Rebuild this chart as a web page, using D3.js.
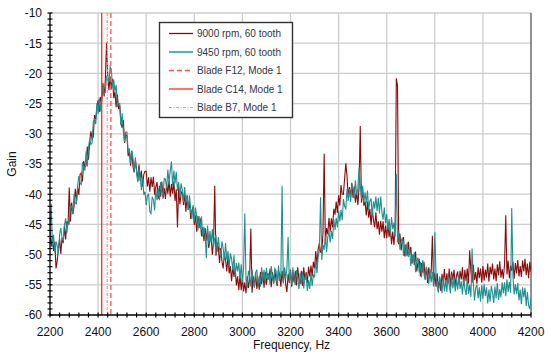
<!DOCTYPE html>
<html><head><meta charset="utf-8">
<script src="https://cdn.jsdelivr.net/npm/d3@7"></script>
<style>body{margin:0;background:#fff}svg{display:block;font-family:"Liberation Sans",Arial,sans-serif}</style>
</head><body><svg id="c" width="550" height="357"></svg>
<script>
// Frequency grid (Hz) of the sampled spectra
const freqs = d3.range(2200, 4201, 5);
// 9000 rpm, 60 tooth (dark red)
const gain9000 = [
-46.0,-48.7,-47.0,-49.4,-47.9,-52.3,-51.0,-49.1,-47.4,-49.9,-47.2,-48.1,-45.3,-47.5,-44.5,-45.1,-38.9,-44.5,-41.4,-43.3,
-42.0,-39.1,-41.2,-38.9,-40.1,-36.7,-36.5,-37.9,-34.5,-35.5,-35.3,-32.1,-34.3,-31.2,-29.6,-30.9,-30.5,-26.9,-27.6,-25.8,
-24.4,-26.4,-23.9,-24.7,-21.6,-23.8,-21.2,-14.9,-20.4,-22.8,-20.5,-22.6,-20.9,-24.1,-23.0,-25.6,-23.5,-25.9,-25.3,-28.3,
-29.0,-27.7,-31.5,-30.1,-30.4,-33.7,-32.7,-35.3,-32.8,-35.4,-36.4,-34.4,-35.9,-37.8,-35.1,-37.8,-36.1,-38.7,-36.7,-36.2,
-36.2,-38.7,-37.2,-39.6,-37.2,-38.8,-37.1,-40.1,-38.8,-38.0,-40.8,-38.6,-40.4,-37.9,-40.7,-39.0,-40.8,-38.3,-39.9,-37.8,
-40.4,-38.3,-39.9,-37.9,-41.1,-39.2,-45.5,-38.8,-41.7,-40.0,-39.4,-41.8,-40.1,-42.9,-40.2,-42.6,-41.3,-44.1,-42.7,-42.1,
-45.1,-43.5,-46.2,-43.6,-45.6,-44.0,-47.0,-45.5,-47.8,-45.6,-47.7,-45.7,-48.9,-47.6,-47.0,-50.0,-47.9,-38.6,-50.2,-48.0,
-48.8,-51.4,-48.9,-51.1,-52.3,-49.9,-50.9,-52.8,-50.3,-53.1,-51.9,-54.4,-51.9,-53.7,-52.3,-55.1,-53.6,-55.9,-53.4,-55.9,
-53.8,-56.1,-54.6,-56.4,-53.6,-55.5,-54.0,-45.7,-56.3,-53.6,-55.4,-53.0,-55.7,-54.0,-55.8,-52.9,-54.9,-52.9,-55.5,-52.9,
-55.0,-53.1,-54.1,-52.3,-55.4,-52.9,-54.8,-52.5,-54.3,-55.2,-52.6,-53.4,-55.3,-52.7,-54.6,-52.2,-54.9,-56.2,-53.2,-54.7,
-52.5,-55.3,-53.2,-54.6,-52.7,-55.1,-52.1,-54.1,-54.9,-52.7,-55.2,-52.1,-54.2,-52.9,-54.7,-52.0,-53.6,-51.8,-53.6,-51.2,
-52.3,-49.4,-51.8,-49.1,-48.1,-49.6,-49.7,-46.4,-33.3,-48.3,-45.6,-46.6,-43.9,-46.2,-44.0,-45.5,-42.4,-43.4,-41.2,-43.1,
-40.2,-41.9,-38.5,-40.0,-40.0,-37.4,-34.9,-37.0,-40.5,-38.8,-40.5,-38.1,-40.6,-38.7,-41.4,-39.5,-41.8,-39.0,-28.7,-41.4,
-39.3,-41.9,-41.2,-43.5,-41.2,-43.9,-42.4,-45.1,-42.5,-44.3,-45.5,-43.0,-45.8,-44.5,-46.7,-44.4,-46.2,-44.5,-47.3,-45.2,
-47.3,-44.9,-47.1,-45.5,-48.3,-46.2,-48.4,-45.5,-20.8,-22.1,-48.3,-46.5,-49.3,-47.7,-47.1,-50.3,-48.3,-50.2,-47.9,-50.0,
-48.7,-51.5,-50.0,-51.7,-49.5,-52.8,-51.3,-50.7,-53.6,-51.4,-53.0,-51.2,-54.0,-52.1,-54.7,-52.1,-54.0,-52.8,-46.9,-55.2,
-53.0,-55.3,-53.1,-55.9,-54.0,-56.0,-53.2,-54.5,-52.4,-55.2,-53.1,-54.8,-52.3,-55.3,-52.8,-54.2,-52.5,-55.2,-53.5,-52.8,
-54.9,-52.7,-54.1,-52.1,-55.2,-52.5,-54.4,-52.3,-54.8,-49.3,-52.7,-54.7,-51.7,-54.2,-52.9,-54.8,-52.1,-53.9,-52.3,-54.6,
-51.9,-54.3,-52.5,-53.8,-51.5,-54.5,-52.0,-53.3,-51.5,-54.1,-52.3,-54.4,-51.6,-53.4,-51.1,-53.8,-52.4,-54.0,-51.6,-43.5,
-53.3,-51.0,-53.9,-51.8,-52.7,-51.2,-54.0,-51.4,-53.1,-50.9,-53.6,-51.9,-53.7,-51.0,-52.8,-50.7,-53.4,-51.5,-53.9,-51.2,-52.9
];
// 9450 rpm, 60 tooth (teal)
const gain9450 = [
-46.5,-41.6,-48.7,-46.7,-49.7,-47.8,-48.6,-49.8,-46.7,-45.6,-47.4,-47.7,-45.1,-44.0,-46.5,-44.5,-45.0,-41.7,-42.2,-43.1,
-40.0,-41.5,-41.6,-38.5,-37.0,-38.2,-38.4,-34.7,-35.6,-36.1,-32.9,-35.4,-32.4,-30.8,-31.8,-31.5,-28.0,-27.6,-28.4,-24.9,
-26.7,-24.0,-26.3,-23.7,-21.9,-23.4,-23.2,-20.5,-20.7,-21.4,-18.9,-19.3,-22.3,-21.0,-23.0,-21.9,-25.4,-25.1,-25.0,-28.6,
-26.6,-29.6,-31.4,-29.7,-29.7,-33.2,-32.4,-34.9,-32.8,-34.0,-36.3,-33.9,-36.4,-38.0,-35.8,-36.8,-39.3,-37.3,-40.1,-39.6,
-41.8,-40.2,-40.0,-42.9,-43.2,-40.4,-40.9,-42.7,-39.1,-41.0,-39.1,-41.0,-38.0,-39.5,-40.3,-37.4,-37.5,-39.1,-35.9,-38.1,
-36.1,-34.6,-38.7,-36.1,-38.2,-36.3,-39.4,-38.0,-40.6,-38.2,-39.2,-41.3,-38.8,-41.4,-40.2,-42.6,-40.2,-42.5,-44.1,-41.8,
-44.6,-42.2,-43.7,-46.0,-43.6,-45.7,-43.7,-47.0,-45.4,-46.6,-50.6,-45.2,-48.3,-46.1,-48.0,-45.8,-48.7,-47.3,-46.8,-49.6,
-47.1,-49.1,-50.4,-47.8,-48.9,-50.9,-48.1,-50.8,-49.4,-52.1,-49.8,-50.7,-52.6,-50.1,-53.5,-51.4,-52.8,-51.3,-54.0,-51.6,
-54.6,-52.2,-43.2,-54.3,-55.5,-52.7,-53.5,-55.3,-52.4,-54.4,-55.5,-53.0,-52.5,-55.0,-53.5,-55.3,-52.1,-54.3,-52.5,-54.8,
-52.2,-54.2,-53.0,-55.0,-51.9,-53.7,-54.7,-52.3,-52.7,-54.9,-51.8,-54.4,-53.1,-38.6,-54.8,-52.1,-54.0,-52.4,-47.1,-54.6,
-52.7,-55.0,-52.1,-54.3,-55.0,-52.6,-53.8,-55.7,-53.0,-54.8,-52.8,-55.6,-53.8,-53.3,-56.0,-54.2,-55.7,-53.0,-55.2,-53.3,
-53.8,-50.8,-53.1,-50.4,-49.3,-40.5,-50.9,-48.4,-49.2,-46.8,-49.6,-47.1,-46.1,-48.0,-46.1,-47.4,-44.1,-45.9,-43.9,-45.5,
-42.7,-44.5,-42.6,-44.3,-40.8,-42.0,-42.4,-39.1,-41.1,-39.1,-41.3,-38.4,-39.1,-40.7,-37.7,-40.1,-39.1,-35.6,-38.3,-40.8,
-38.6,-41.4,-39.7,-41.5,-39.4,-42.5,-41.2,-40.7,-43.6,-41.2,-42.4,-40.4,-42.8,-40.6,-43.2,-40.4,-42.9,-44.2,-42.2,-44.8,
-43.3,-45.9,-44.1,-46.6,-43.8,-45.8,-44.7,-47.1,-36.6,-48.0,-46.0,-49.2,-47.8,-47.2,-50.2,-48.4,-50.3,-48.0,-50.4,-49.1,
-51.9,-49.9,-51.2,-49.6,-52.9,-51.0,-50.5,-53.0,-51.2,-53.8,-50.9,-53.3,-54.2,-52.0,-52.9,-54.9,-52.4,-54.6,-52.9,-55.3,
-46.3,-53.1,-55.3,-56.3,-53.6,-54.6,-56.4,-53.7,-56.1,-54.2,-56.2,-53.5,-55.0,-56.4,-53.4,-55.6,-53.9,-56.1,-54.1,-55.8,
-53.4,-55.7,-54.4,-56.6,-54.0,-55.7,-56.7,-53.9,-56.5,-55.0,-57.0,-49.0,-54.6,-57.6,-55.5,-55.0,-57.2,-55.4,-57.8,-55.1,
-57.3,-54.9,-56.9,-55.4,-58.1,-55.8,-57.8,-55.2,-56.3,-58.0,-55.3,-57.2,-54.7,-57.5,-55.7,-57.1,-54.6,-56.4,-54.6,-56.9,
-54.1,-56.2,-54.5,-56.3,-42.3,-53.6,-56.6,-54.9,-56.5,-54.7,-57.6,-55.8,-58.2,-55.4,-57.1,-55.5,-58.5,-56.2,-58.4,-59.0,-57.2
];
// Blade mode-1 frequencies (Hz)
const bladeNames = ["Blade F12, Mode 1", "Blade C14, Mode 1", "Blade B7, Mode 1"];
const bladeFreqs = [2453, 2415, 2438];
const xTicks = [2200,2400,2600,2800,3000,3200,3400,3600,3800,4000,4200];
const yTicks = [-60,-55,-50,-45,-40,-35,-30,-25,-20,-15,-10];

const svg = d3.select("#c");
const m = {l:50, t:13, r:531, b:315};
const x = d3.scaleLinear().domain([2200,4200]).range([m.l, m.r]);
const y = d3.scaleLinear().domain([-60,-10]).range([m.b, m.t]);

// grid
const g = svg.append("g");
g.selectAll(".gy").data(yTicks.filter(d=>d>-60)).join("line")
  .attr("x1", m.l).attr("x2", m.r).attr("y1", d=>y(d)).attr("y2", d=>y(d))
  .attr("stroke", "#cccccc").attr("stroke-width", 1.3);
g.selectAll(".gx").data(xTicks.filter(d=>d>2200 && d<4200)).join("line")
  .attr("y1", m.t).attr("y2", m.b).attr("x1", d=>x(d)).attr("x2", d=>x(d))
  .attr("stroke", "#cccccc").attr("stroke-width", 1.3);
svg.append("line").attr("x1", x(4200)).attr("x2", x(4200)).attr("y1", m.t).attr("y2", m.b)
  .attr("stroke", "#555").attr("stroke-width", 1.3);

// series
svg.append("clipPath").attr("id","cp").append("rect")
  .attr("x", m.l).attr("y", m.t).attr("width", m.r-m.l).attr("height", m.b-m.t);
const line = d3.line().x((d,i)=>x(freqs[i])).y(d=>y(d));
const cRed = "#8b0a0a", cTeal = "#1f9090";
svg.append("path").datum(gain9000).attr("d", line).attr("fill","none")
  .attr("stroke", cRed).attr("stroke-width", 1.1).attr("clip-path","url(#cp)");
svg.append("path").datum(gain9450).attr("d", line).attr("fill","none")
  .attr("stroke", cTeal).attr("stroke-width", 1.1).attr("clip-path","url(#cp)");

// blade lines
const bladeStyles = [
  {c:"#ff5555", dash:"5,3", w:1.3},
  {c:"#ff2a2a", dash:null, w:1.3},
  {c:"#ff8c8c", dash:"3,1.5,1,1.5", w:1.2}
];
svg.selectAll(".bl").data(bladeFreqs).join("line")
  .attr("x1", d=>x(d)).attr("x2", d=>x(d)).attr("y1", m.t).attr("y2", m.b)
  .attr("stroke", (d,i)=>bladeStyles[i].c).attr("stroke-width",(d,i)=>bladeStyles[i].w)
  .attr("stroke-dasharray", (d,i)=>bladeStyles[i].dash);

// axes
const xMinor = d3.range(2200, 4201, 40);
const yMinor = d3.range(-60, -9, 1);
const ax = svg.append("g");
ax.append("line").attr("x1", m.l).attr("x2", m.r).attr("y1", m.b).attr("y2", m.b).attr("stroke","#000").attr("stroke-width",1.3);
ax.append("line").attr("x1", m.l).attr("x2", m.l).attr("y1", m.t).attr("y2", m.b).attr("stroke","#000").attr("stroke-width",1.3);
ax.selectAll(".xt").data(xMinor).join("line")
  .attr("x1", d=>x(d)).attr("x2", d=>x(d)).attr("y1", m.b-2.5).attr("y2", m.b+2.5)
  .attr("stroke","#000").attr("stroke-width",1.2);
ax.selectAll(".yt").data(yMinor).join("line")
  .attr("y1", d=>y(d)).attr("y2", d=>y(d)).attr("x1", m.l-2.5).attr("x2", m.l+2.5)
  .attr("stroke","#000").attr("stroke-width",1.2);
ax.selectAll(".xl").data(xTicks).join("text")
  .attr("x", d=>x(d)).attr("y", 336).attr("text-anchor","middle")
  .attr("font-size", 12).attr("fill","#111").text(d=>d);
ax.selectAll(".yl").data(yTicks).join("text")
  .attr("x", 42).attr("y", d=>y(d)+4.3).attr("text-anchor","end")
  .attr("font-size", 12).attr("fill","#111").text(d=>d);
svg.append("text").attr("x", (m.l+m.r)/2+1).attr("y", 349).attr("text-anchor","middle")
  .attr("font-size", 12).attr("fill","#111").text("Frequency, Hz");
svg.append("text").attr("transform", `translate(16,${(m.t+m.b)/2}) rotate(-90)`)
  .attr("text-anchor","middle").attr("font-size", 12).attr("fill","#111").text("Gain");

// legend
const legNames = ["9000 rpm, 60 tooth", "9450 rpm, 60 tooth"].concat(bladeNames);
const legStyles = [{c:cRed,dash:null,w:1.3},{c:"#2aa0a0",dash:null,w:1.6}].concat(bladeStyles);
const lg = svg.append("g");
lg.append("rect").attr("x",159.5).attr("y",22.5).attr("width",133).attr("height",95)
  .attr("fill","#fff").attr("stroke","#333").attr("stroke-width",1.4);
const rowsY = [33.5, 52, 70.5, 89, 107.5];
legNames.forEach((n,i)=>{
  lg.append("line").attr("x1",169).attr("x2",193).attr("y1",rowsY[i]).attr("y2",rowsY[i])
    .attr("stroke",legStyles[i].c).attr("stroke-width",legStyles[i].w)
    .attr("stroke-dasharray",legStyles[i].dash);
  lg.append("text").attr("x",197).attr("y",rowsY[i]+3.5).attr("font-size",10)
    .attr("fill","#333344").text(n);
});
</script></body></html>
